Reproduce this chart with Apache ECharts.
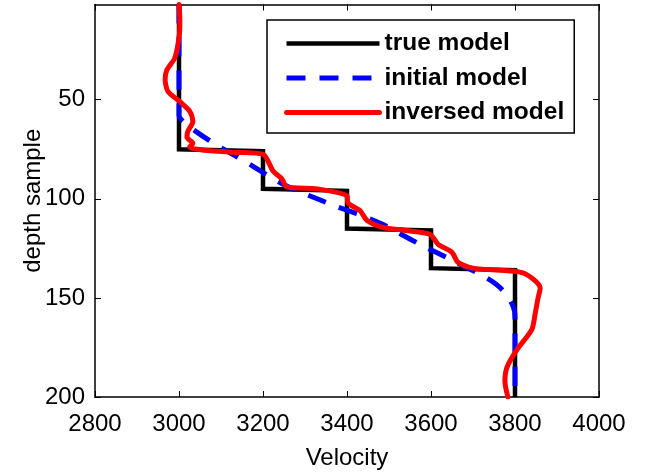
<!DOCTYPE html>
<html>
<head>
<meta charset="utf-8">
<script src="https://cdn.jsdelivr.net/npm/echarts@6/dist/echarts.min.js"></script>
<style>
html,body{margin:0;padding:0;background:#fff;}
#chart{width:646px;height:475px;}
</style>
</head>
<body>
<div id="chart"></div>
<script>
// Data: [velocity, depth sample]
var trueModel = [
  [3000, 2], [3000, 75], [3200, 76], [3200, 95], [3400, 96], [3400, 115],
  [3600, 116], [3600, 135], [3800, 136], [3800, 200]
];
var initialModel = [
  [3000, 2], [3000, 58], [3010, 61], [3040, 66], [3090, 73], [3164, 82],
  [3210, 88], [3260, 94], [3329, 100], [3376, 104], [3430, 108], [3486, 113],
  [3530, 118], [3574, 123], [3650, 131], [3733, 140], [3770, 146], [3795, 154],
  [3800, 160], [3800, 200]
];
var inversedModel = [
  [3000, 2], [3002, 10], [3001, 17], [2990, 29], [2971, 35], [2967, 40],
  [2974, 46], [3002, 51], [3026, 56], [3033, 61], [3021, 66], [3019, 69],
  [3033, 72], [3025, 74], [3060, 75.5], [3130, 76.5], [3200, 77.5], [3212, 81],
  [3224, 86], [3245, 90], [3257, 94], [3329, 95], [3400, 98.5], [3402, 102],
  [3431, 106], [3448, 111], [3486, 114.5], [3540, 116], [3598, 118], [3617, 123],
  [3650, 127], [3664, 132], [3700, 135], [3812, 137], [3840, 140], [3860, 145],
  [3855, 150], [3848, 158], [3840, 166], [3805, 176], [3781, 185], [3776, 192],
  [3783, 200]
];
var seriesNames = ['true model', 'initial model', 'inversed model'];
var yTicks = [50, 100, 150, 200];

var FONT = '"Liberation Sans", Arial, Helvetica, sans-serif';
var chart = echarts.init(document.getElementById('chart'), null, {renderer: 'canvas'});

var plain = function (v) { return String(v); };
var axisLineStyle = {color: '#000', width: 1.5};
var option = {
  animation: false,
  backgroundColor: '#fff',
  grid: {left: 95, right: 47, top: 4.5, bottom: 78, containLabel: false},
  legend: {
    orient: 'vertical',
    left: 267, top: 20,
    padding: [11, 10, 8, 17],
    itemWidth: 93, itemHeight: 10, itemGap: 9.5, itemTextGap: 20,
    borderColor: '#000', borderWidth: 1.5,
    backgroundColor: '#fff',
    itemStyle: {opacity: 0, borderWidth: 0},
    lineStyle: {width: 'inherit'},
    textStyle: {fontFamily: FONT, fontSize: 24.5, fontWeight: 'bold', color: '#000', lineHeight: 24},
    data: seriesNames
  },
  xAxis: [{
    type: 'value', min: 2800, max: 4000, interval: 200, position: 'bottom',
    name: 'Velocity', nameLocation: 'middle', nameGap: 49, nameMoveOverlap: false,
    nameTextStyle: {fontFamily: FONT, fontSize: 24, color: '#000'},
    axisLine: {show: true, onZero: false, lineStyle: axisLineStyle},
    axisTick: {show: true, inside: true, length: 6, lineStyle: {color: '#000', width: 1}},
    axisLabel: {fontFamily: FONT, fontSize: 24, color: '#000', margin: 15, formatter: plain},
    splitLine: {show: false}
  }, {
    type: 'value', min: 2800, max: 4000, interval: 200, position: 'top',
    axisLine: {show: true, onZero: false, lineStyle: axisLineStyle},
    axisTick: {show: true, inside: true, length: 6, lineStyle: {color: '#000', width: 1}},
    axisLabel: {show: false},
    splitLine: {show: false}
  }],
  yAxis: [{
    type: 'value', min: 2, max: 200, inverse: true, position: 'left',
    name: 'depth sample', nameLocation: 'middle', nameGap: 50, nameMoveOverlap: false,
    nameTextStyle: {fontFamily: FONT, fontSize: 24, color: '#000'},
    axisLine: {show: true, onZero: false, lineStyle: axisLineStyle},
    axisTick: {show: true, inside: true, length: 6, customValues: yTicks, lineStyle: {color: '#000', width: 1}},
    axisLabel: {fontFamily: FONT, fontSize: 24, color: '#000', margin: 10, customValues: yTicks, formatter: plain},
    splitLine: {show: false}
  }, {
    type: 'value', min: 2, max: 200, inverse: true, position: 'right',
    axisLine: {show: true, onZero: false, lineStyle: axisLineStyle},
    axisTick: {show: true, inside: true, length: 6, customValues: yTicks, lineStyle: {color: '#000', width: 1}},
    axisLabel: {show: false, customValues: yTicks},
    splitLine: {show: false}
  }],
  series: [{
    name: seriesNames[0], type: 'line', data: trueModel, symbol: 'none',
    xAxisIndex: 0, yAxisIndex: 0, z: 2,
    lineStyle: {color: '#000', width: 4.5, cap: 'butt', join: 'miter'},
    itemStyle: {color: '#000'}
  }, {
    name: seriesNames[1], type: 'line', data: initialModel, symbol: 'none', smooth: 0.3,
    xAxisIndex: 0, yAxisIndex: 0, z: 3,
    lineStyle: {color: '#0000ff', width: 5, type: [19, 14], cap: 'butt'},
    itemStyle: {color: '#0000ff'}
  }, {
    name: seriesNames[2], type: 'line', data: inversedModel, symbol: 'none', smooth: 0.25,
    xAxisIndex: 0, yAxisIndex: 0, z: 4,
    lineStyle: {color: '#ff0000', width: 5, cap: 'round', join: 'round'},
    itemStyle: {color: '#ff0000'}
  }]
};
chart.setOption(option);
</script>
</body>
</html>
